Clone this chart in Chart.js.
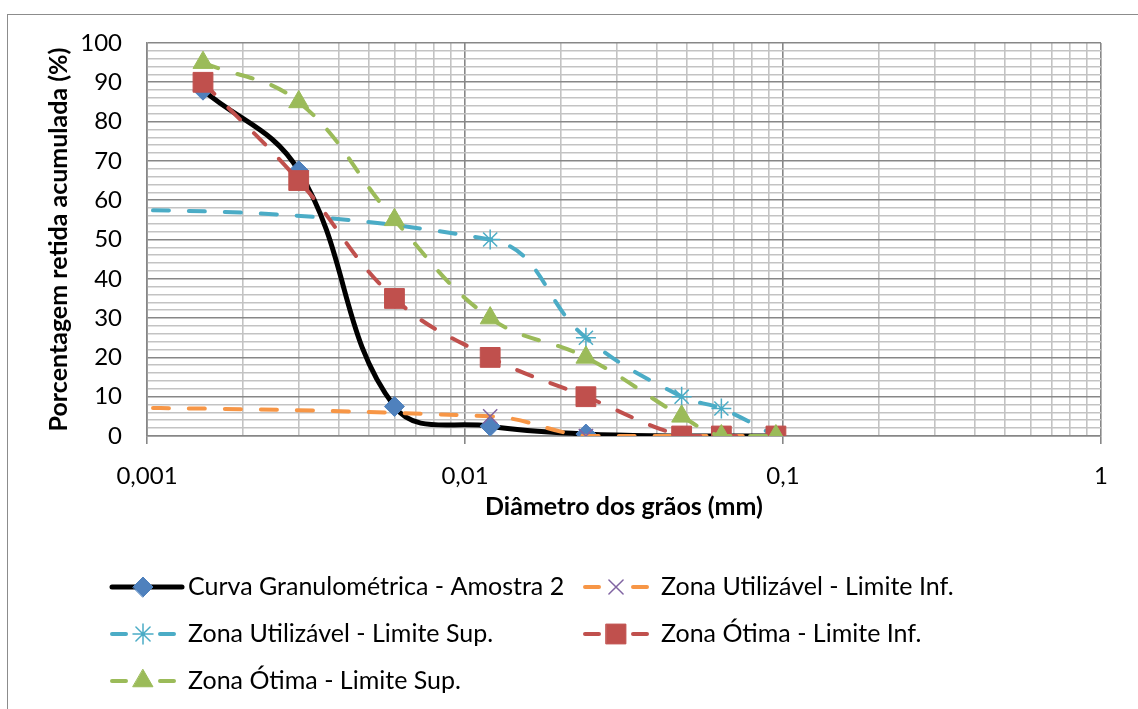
<!DOCTYPE html>
<html lang="pt-BR">
<head>
<meta charset="utf-8">
<title>Curva granulométrica</title>
<script src="https://cdn.jsdelivr.net/npm/chart.js@4.4.1/dist/chart.umd.min.js"></script>
<style>
  html, body { margin: 0; padding: 0; background: #fff; }
  #wrap { width: 1138px; height: 709px; position: relative; }
</style>
</head>
<body>
<div id="wrap"><canvas id="grafico" width="1138" height="709"></canvas></div>
<script>
// Diâmetros das peneiras / sedimentação (mm)
const diametros = [0.0015, 0.003, 0.006, 0.012, 0.024, 0.048, 0.064, 0.095];
// Limites da zona utilizável começam fora do eixo (à esquerda de 0,001 mm)
const diametrosUtilizavel = [0.0001, 0.012, 0.024, 0.048, 0.064, 0.095];

// Porcentagem retida acumulada (%)
const curvaAmostra2 = [88, 67.5, 7.5, 2.5, 0.5, 0, 0, 0];
const utilizavelInf = [8, 5, 0, 0, 0, 0];
const utilizavelSup = [59, 50, 25, 10, 7, 0];
const otimaInf = [90, 65, 35, 20, 10, 0, 0, 0];
const otimaSup = [95, 85, 55, 30, 20, 5, 0, 0];

// Rótulos dos eixos
const xDecadas = [0.001, 0.01, 0.1, 1];
const xRotulos = ['0,001', '0,01', '0,1', '1'];
const yRotulos = ['0', '10', '20', '30', '40', '50', '60', '70', '80', '90', '100'];

const nomes = [
  'Curva Granulométrica - Amostra 2',
  'Zona Utilizável - Limite Inf.',
  'Zona Utilizável - Limite Sup.',
  'Zona Ótima - Limite Inf.',
  'Zona Ótima - Limite Sup.'
];

const FONTE = 'Lato, "Open Sans", sans-serif';
const GRADE_FORTE = '#878787';
const GRADE_FRACA = '#c3c3c3';

const pares = (xs, ys) => xs.map((x, i) => ({ x, y: ys[i] }));
const ehDecada = v => Math.abs(Math.log10(v) - Math.round(Math.log10(v))) < 1e-9;

// linhas de grade do eixo log: 1..9 em cada década
const xGrade = [];
for (let d = 0; d < xDecadas.length - 1; d++) {
  for (let m = 1; m < 10; m++) xGrade.push(+(m * xDecadas[d]).toPrecision(6));
}
xGrade.push(xDecadas[xDecadas.length - 1]);

const tracoTracejado = [16, 20];

const datasets = [
  {
    label: nomes[0], data: pares(diametros, curvaAmostra2),
    borderColor: '#000000', borderWidth: 5, tension: 0.4,
    pointStyle: 'rectRot', pointRadius: 10, pointBackgroundColor: '#4f81bd', pointBorderColor: '#4f81bd',
    pointBorderWidth: 1, order: 5
  },
  {
    label: nomes[1], data: pares(diametrosUtilizavel, utilizavelInf),
    borderColor: '#f79646', borderWidth: 4, borderDash: tracoTracejado, borderCapStyle: 'round', tension: 0.4,
    pointStyle: 'crossRot', pointRadius: 10, pointBorderColor: '#8064a2', pointBackgroundColor: '#8064a2',
    pointBorderWidth: 1.5, order: 4
  },
  {
    label: nomes[2], data: pares(diametrosUtilizavel, utilizavelSup),
    borderColor: '#4bacc6', borderWidth: 4, borderDash: tracoTracejado, borderCapStyle: 'round', tension: 0.4,
    pointStyle: 'star', pointRadius: 10, pointBorderColor: '#4bacc6', pointBackgroundColor: '#4bacc6',
    pointBorderWidth: 1.5, order: 3
  },
  {
    label: nomes[3], data: pares(diametros, otimaInf),
    borderColor: '#c0504d', borderWidth: 4, borderDash: tracoTracejado, borderCapStyle: 'round', tension: 0.4,
    pointStyle: 'rect', pointRadius: 14, pointBackgroundColor: '#c0504d', pointBorderColor: '#c0504d',
    pointBorderWidth: 1, order: 2
  },
  {
    label: nomes[4], data: pares(diametros, otimaSup),
    borderColor: '#9bbb59', borderWidth: 4, borderDash: tracoTracejado, borderCapStyle: 'round', tension: 0.4,
    pointStyle: 'triangle', pointRadius: 11.5, pointBackgroundColor: '#9bbb59', pointBorderColor: '#9bbb59',
    pointBorderWidth: 1, order: 1
  }
];

// moldura externa e fundo
const moldura = {
  id: 'moldura',
  beforeDraw(chart) {
    const { ctx } = chart;
    ctx.save();
    ctx.fillStyle = '#ffffff';
    ctx.fillRect(0, 0, chart.width, chart.height);
    ctx.strokeStyle = '#8c8c8c';
    ctx.lineWidth = 1;
    ctx.strokeRect(7.5, 14.5, chart.width + 10, chart.height + 10);
    ctx.restore();
  }
};

// legenda em duas colunas abaixo do gráfico
const legendaGrade = {
  id: 'legendaGrade',
  afterDraw(chart) {
    const { ctx } = chart;
    const colunas = [110, 583];
    const linha0 = 587, passo = 47;
    ctx.save();
    chart.data.datasets.forEach((ds, i) => {
      const x0 = colunas[i % 2];
      const y = linha0 + Math.floor(i / 2) * passo;
      ctx.strokeStyle = ds.borderColor;
      ctx.lineWidth = ds.borderWidth;
      ctx.lineCap = 'round';
      ctx.setLineDash([]);
      ctx.beginPath();
      if (ds.borderDash) {
        ctx.moveTo(x0 + 2, y); ctx.lineTo(x0 + 16, y);
        ctx.moveTo(x0 + 50, y); ctx.lineTo(x0 + 64, y);
      } else {
        ctx.moveTo(x0 + 2, y); ctx.lineTo(x0 + 72, y);
      }
      ctx.stroke();
      ctx.fillStyle = ds.pointBackgroundColor;
      ctx.strokeStyle = ds.pointBorderColor;
      ctx.lineWidth = ds.pointBorderWidth;
      Chart.helpers.drawPoint(ctx, {
        pointStyle: ds.pointStyle, radius: ds.pointRadius, rotation: 0, borderWidth: ds.pointBorderWidth
      }, x0 + 33, y);
      ctx.fillStyle = '#000000';
      ctx.font = '25px ' + FONTE;
      ctx.textBaseline = 'middle';
      ctx.textAlign = 'left';
      ctx.fillText(ds.label, x0 + 78, y);
    });
    ctx.restore();
  }
};

new Chart(document.getElementById('grafico'), {
  type: 'line',
  data: { datasets },
  options: {
    responsive: false,
    devicePixelRatio: 1,
    animation: false,
    events: [],
    layout: { padding: { top: 43, right: 37, left: 0, bottom: 178 } },
    plugins: { legend: { display: false }, tooltip: { enabled: false } },
    scales: {
      x: {
        type: 'logarithmic', min: 0.001, max: 1,
        afterBuildTicks: s => { s.ticks = xGrade.map(v => ({ value: v, major: ehDecada(v) })); },
        afterFit: s => { s.height = 95; },
        ticks: {
          autoSkip: false, maxRotation: 0, padding: 18, color: '#000',
          font: { family: FONTE, size: 24 },
          callback: v => {
            const k = xDecadas.findIndex(d => Math.abs(d - v) < 1e-12);
            return k >= 0 ? xRotulos[k] : '';
          }
        },
        grid: {
          color: c => (c.tick && ehDecada(c.tick.value)) ? GRADE_FORTE : GRADE_FRACA,
          tickColor: c => (c.tick && ehDecada(c.tick.value)) ? GRADE_FORTE : 'rgba(0,0,0,0)',
          lineWidth: 1.6, tickLength: 8
        },
        border: { display: true, color: GRADE_FORTE, width: 1.6 },
        title: {
          display: true, text: 'Diâmetro dos grãos (mm)', color: '#000',
          font: { family: FONTE, size: 25, weight: 'bold' }, padding: { top: 0, bottom: 9 }
        }
      },
      y: {
        type: 'linear', min: 0, max: 100,
        afterFit: s => { s.width = 147; },
        ticks: {
          stepSize: 2, autoSkip: false, padding: 25, color: '#000',
          font: { family: FONTE, size: 24 },
          callback: v => (v % 10 === 0 ? yRotulos[v / 10] : '')
        },
        grid: {
          color: c => (c.tick && c.tick.value % 10 === 0) ? GRADE_FORTE : GRADE_FRACA,
          lineWidth: 1.6, drawTicks: false
        },
        border: { display: true, color: GRADE_FORTE, width: 1.6 },
        title: {
          display: true, text: 'Porcentagem retida acumulada (%)', color: '#000',
          font: { family: FONTE, size: 25, weight: 'bold' }, padding: { top: 44, bottom: 0 }
        }
      }
    }
  },
  plugins: [moldura, legendaGrade]
});
</script>
</body>
</html>
